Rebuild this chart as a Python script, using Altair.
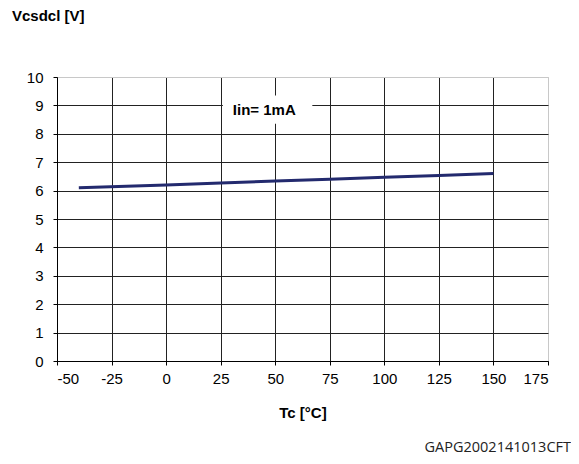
import altair as alt
import pandas as pd

# data
tc = [-40, 0, 25, 50, 75, 100, 125, 150]
vcs = [6.10, 6.20, 6.27, 6.34, 6.40, 6.47, 6.53, 6.60]

x_ticks = [-50, -25, 0, 25, 50, 75, 100, 125, 150, 175]
y_ticks = [0, 1, 2, 3, 4, 5, 6, 7, 8, 9, 10]

label_text = ["Iin= 1mA"]
label_x = [45]
label_y = [8.85]
box_x = [26]
box_x2 = [67]
box_y = [8.35]
box_y2 = [9.35]

df = pd.DataFrame({"tc": tc, "v": vcs})
lab = pd.DataFrame({"t": label_text, "x": label_x, "y": label_y,
                    "bx": box_x, "bx2": box_x2, "by": box_y, "by2": box_y2})

FONT = "Liberation Sans"

xscale = alt.Scale(domain=[-50, 175], nice=False, zero=False)
yscale = alt.Scale(domain=[0, 10], nice=False, zero=False)

xaxis = alt.Axis(values=x_ticks, title="Tc [°C]", labelFont=FONT, labelFontSize=15,
                 labelExpr="'' + datum.value", labelOverlap=False,
                 labelColor="black", titleFont=FONT, titleFontSize=15, titleFontWeight="bold",
                 titleColor="black", titlePadding=19, labelPadding=6, tickSize=4,
                 tickColor="black", domainColor="black", grid=True,
                 gridColor=alt.condition("datum.value == 175", alt.value("#c8c8c8"), alt.value("#222222")),
                 gridWidth=1, gridOpacity=1)
yaxis = alt.Axis(values=y_ticks, title=None, labelFont=FONT, labelFontSize=15,
                 labelOverlap=False,
                 labelColor="black", labelPadding=10, tickSize=4, tickColor="black",
                 domainColor="black", grid=True,
                 gridColor=alt.condition("datum.value == 10", alt.value("#c8c8c8"), alt.value("#222222")),
                 gridWidth=1, gridOpacity=1)

line = alt.Chart(df).mark_line(color="#232A6E", strokeWidth=3).encode(
    x=alt.X("tc:Q", scale=xscale, axis=xaxis),
    y=alt.Y("v:Q", scale=yscale, axis=yaxis),
)

box = alt.Chart(lab).mark_rect(color="white").encode(
    x=alt.X("bx:Q", scale=xscale, axis=xaxis), x2="bx2:Q",
    y=alt.Y("by:Q", scale=yscale, axis=yaxis), y2="by2:Q",
)

txt = alt.Chart(lab).mark_text(font=FONT, fontSize=15, fontWeight="bold", color="black").encode(
    x=alt.X("x:Q", scale=xscale, axis=xaxis), y=alt.Y("y:Q", scale=yscale, axis=yaxis), text="t:N"
)

ytitle = alt.Chart(pd.DataFrame({"t": ["Vcsdcl [V]"]})).mark_text(
    font=FONT, fontSize=15, fontWeight="bold", color="black", align="left", baseline="middle"
).encode(x=alt.value(-45), y=alt.value(-61), text="t:N")

footer = alt.Chart(pd.DataFrame({"t": ["GAPG2002141013CFT"]})).mark_text(
    font="Open Sans", fontSize=14.5, color="#222222", align="right", baseline="middle"
).encode(x=alt.value(514), y=alt.value(87 + 284), text="t:N")

chart = alt.layer(line, box, txt, ytitle, footer).properties(
    width=491, height=284,
    autosize=alt.AutoSizeParams(type="none"),
    padding={"left": 49, "top": 69, "right": 23, "bottom": 95},
).configure(background="white").configure_view(stroke="#c8c8c8")

chart.save("out.html", embed_options={"renderer": "svg", "actions": False})
